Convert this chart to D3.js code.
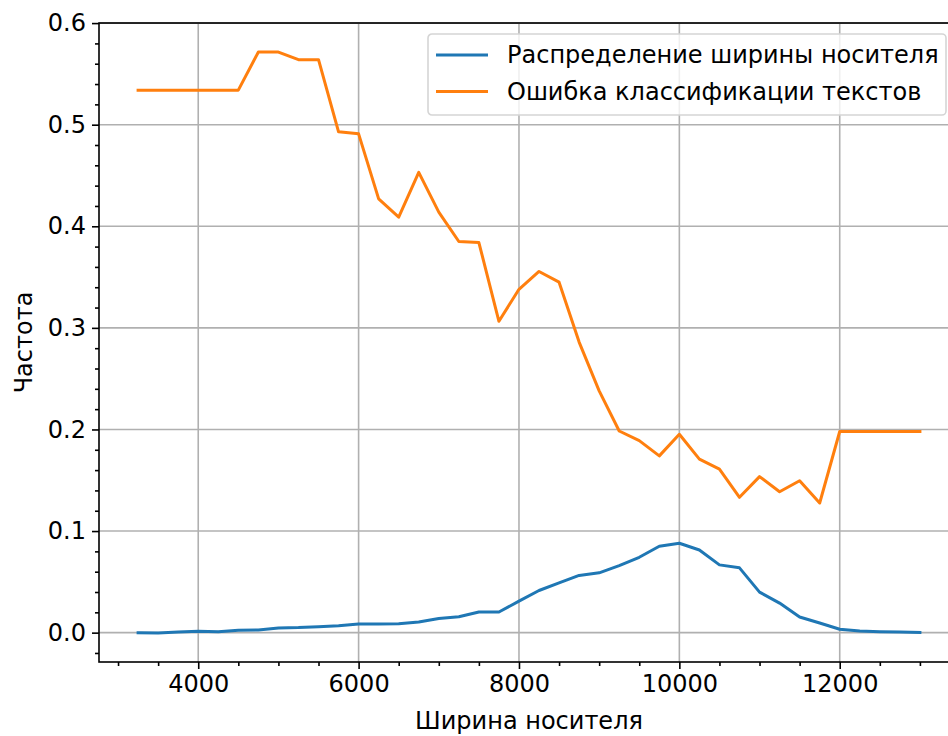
<!DOCTYPE html>
<html>
<head>
<meta charset="utf-8">
<script src="https://cdn.jsdelivr.net/npm/d3@7"></script>
<style>
  body { margin: 0; background: #fff; }
  svg { display: block; }
  text { font-family: "DejaVu Sans", sans-serif; fill: #000; }
</style>
</head>
<body>
<div id="chart"></div>
<script>
// Ширина носителя (x values)
var widths = [3250, 3500, 3750, 4000, 4250, 4500, 4750, 5000, 5250, 5500,
    5750, 6000, 6250, 6500, 6750, 7000, 7250, 7500, 7750, 8000,
    8250, 8500, 8750, 9000, 9250, 9500, 9750, 10000, 10250, 10500,
    10750, 11000, 11250, 11500, 11750, 12000, 12250, 12500, 12750, 13000];

// Распределение ширины носителя
var distribution = [0.0000, -0.0003, 0.0007, 0.0013, 0.0010, 0.0023, 0.0026, 0.0046, 0.0050, 0.0059,
    0.0069, 0.0085, 0.0086, 0.0088, 0.0105, 0.0140, 0.0157, 0.0203, 0.0203, 0.0310,
    0.0415, 0.0490, 0.0563, 0.0589, 0.0660, 0.0742, 0.0850, 0.0880, 0.0814, 0.0667,
    0.0638, 0.0399, 0.0291, 0.0154, 0.0095, 0.0033, 0.0016, 0.0010, 0.0007, 0.0003];

// Ошибка классификации текстов
var errors = [0.534, 0.534, 0.534, 0.534, 0.534, 0.534, 0.5715, 0.5715, 0.564, 0.564,
    0.493, 0.491, 0.427, 0.409, 0.453, 0.414, 0.385, 0.384, 0.3065, 0.338,
    0.3555, 0.345, 0.286, 0.238, 0.1985, 0.189, 0.174, 0.1953, 0.1708, 0.161,
    0.1332, 0.1536, 0.1387, 0.1495, 0.1276, 0.198, 0.198, 0.198, 0.198, 0.198];

var seriesNames = ["Распределение ширины носителя", "Ошибка классификации текстов"];
var seriesColors = ["#1f77b4", "#ff7f0e"];

var xTicks = [4000, 6000, 8000, 10000, 12000];
var yTicks = [0.0, 0.1, 0.2, 0.3, 0.4, 0.5, 0.6];

var width = 948, height = 736;
var margin = {left: 99, top: 23, right: -11, bottom: 74};
var innerW = width - margin.left - margin.right;
var innerH = height - margin.top - margin.bottom;
var fontSize = 24;

var svg = d3.select("#chart")
    .append("svg")
    .attr("width", width)
    .attr("height", height);

var g = svg.append("g")
    .attr("transform", "translate(" + margin.left + "," + margin.top + ")");

// Scales (matplotlib style 5% margins)
var xMin = d3.min(widths), xMax = d3.max(widths);
var xPad = (xMax - xMin) * 0.05;
var x = d3.scaleLinear().domain([xMin - xPad, xMax + xPad]).range([0, innerW]);

var yAll = distribution.concat(errors);
var yMin = d3.min(yAll), yMax = d3.max(yAll);
var yPad = (yMax - yMin) * 0.05;
var y = d3.scaleLinear().domain([yMin - yPad, yMax + yPad]).range([innerH, 0]);

// Grid
g.append("g")
    .selectAll("line")
    .data(xTicks)
    .enter()
    .append("line")
    .attr("x1", d => x(d)).attr("x2", d => x(d))
    .attr("y1", 0).attr("y2", innerH)
    .attr("stroke", "#b0b0b0")
    .attr("stroke-width", 1.6);

g.append("g")
    .selectAll("line")
    .data(yTicks)
    .enter()
    .append("line")
    .attr("x1", 0).attr("x2", innerW)
    .attr("y1", d => y(d)).attr("y2", d => y(d))
    .attr("stroke", "#b0b0b0")
    .attr("stroke-width", 1.6);

// Lines
var line = d3.line()
    .x(d => x(d[0]))
    .y(d => y(d[1]));

var series = [
    widths.map((w, i) => [w, distribution[i]]),
    widths.map((w, i) => [w, errors[i]])
];

series.forEach(function (s, i) {
    g.append("path")
        .datum(s)
        .attr("fill", "none")
        .attr("stroke", seriesColors[i])
        .attr("stroke-width", 3)
        .attr("stroke-linejoin", "round")
        .attr("stroke-linecap", "square")
        .attr("d", line);
});

// Axes
var xMinor = d3.range(3000, 13500, 500).filter(d => xTicks.indexOf(d) < 0);
var yMinor = d3.range(-0.02, 0.601, 0.02).filter(d => yTicks.every(t => Math.abs(t - d) > 1e-6));

g.append("g")
    .attr("transform", "translate(0," + innerH + ")")
    .call(d3.axisBottom(x).tickValues(xTicks).tickFormat(d3.format("d")).tickSize(7).tickPadding(6));

g.append("g")
    .attr("transform", "translate(0," + innerH + ")")
    .call(d3.axisBottom(x).tickValues(xMinor).tickFormat("").tickSize(4));

g.append("g")
    .call(d3.axisLeft(y).tickValues(yTicks).tickFormat(d3.format(".1f")).tickSize(7).tickPadding(6));

g.append("g")
    .call(d3.axisLeft(y).tickValues(yMinor).tickFormat("").tickSize(4));

g.selectAll(".domain").remove();
g.selectAll(".tick line").attr("stroke", "#000").attr("stroke-width", 1.6);
g.selectAll(".tick text")
    .attr("font-family", "DejaVu Sans")
    .attr("font-size", fontSize)
    .attr("fill", "#000");

// Spines
g.append("rect")
    .attr("x", 0).attr("y", 0)
    .attr("width", innerW).attr("height", innerH)
    .attr("fill", "none")
    .attr("stroke", "#000")
    .attr("stroke-width", 1.6);

// Axis titles
svg.append("text")
    .attr("x", margin.left + innerW / 2)
    .attr("y", 729)
    .attr("text-anchor", "middle")
    .attr("font-size", fontSize)
    .text("Ширина носителя");

svg.append("text")
    .attr("transform", "translate(32," + (margin.top + innerH / 2) + ") rotate(-90)")
    .attr("text-anchor", "middle")
    .attr("font-size", fontSize)
    .text("Частота");

// Legend
var legend = svg.append("g")
    .attr("transform", "translate(428,34)");

legend.append("rect")
    .attr("width", 518)
    .attr("height", 81)
    .attr("rx", 4)
    .attr("fill", "#fff")
    .attr("fill-opacity", 0.8)
    .attr("stroke", "#d5d5d5")
    .attr("stroke-width", 1.6);

seriesNames.forEach(function (name, i) {
    var ly = 21 + i * 36.5;
    legend.append("line")
        .attr("x1", 8).attr("x2", 60)
        .attr("y1", ly).attr("y2", ly)
        .attr("stroke", seriesColors[i])
        .attr("stroke-width", 3);
    legend.append("text")
        .attr("x", 79)
        .attr("y", ly)
        .attr("dy", "0.35em")
        .attr("font-size", fontSize)
        .text(name);
});
</script>
</body>
</html>
